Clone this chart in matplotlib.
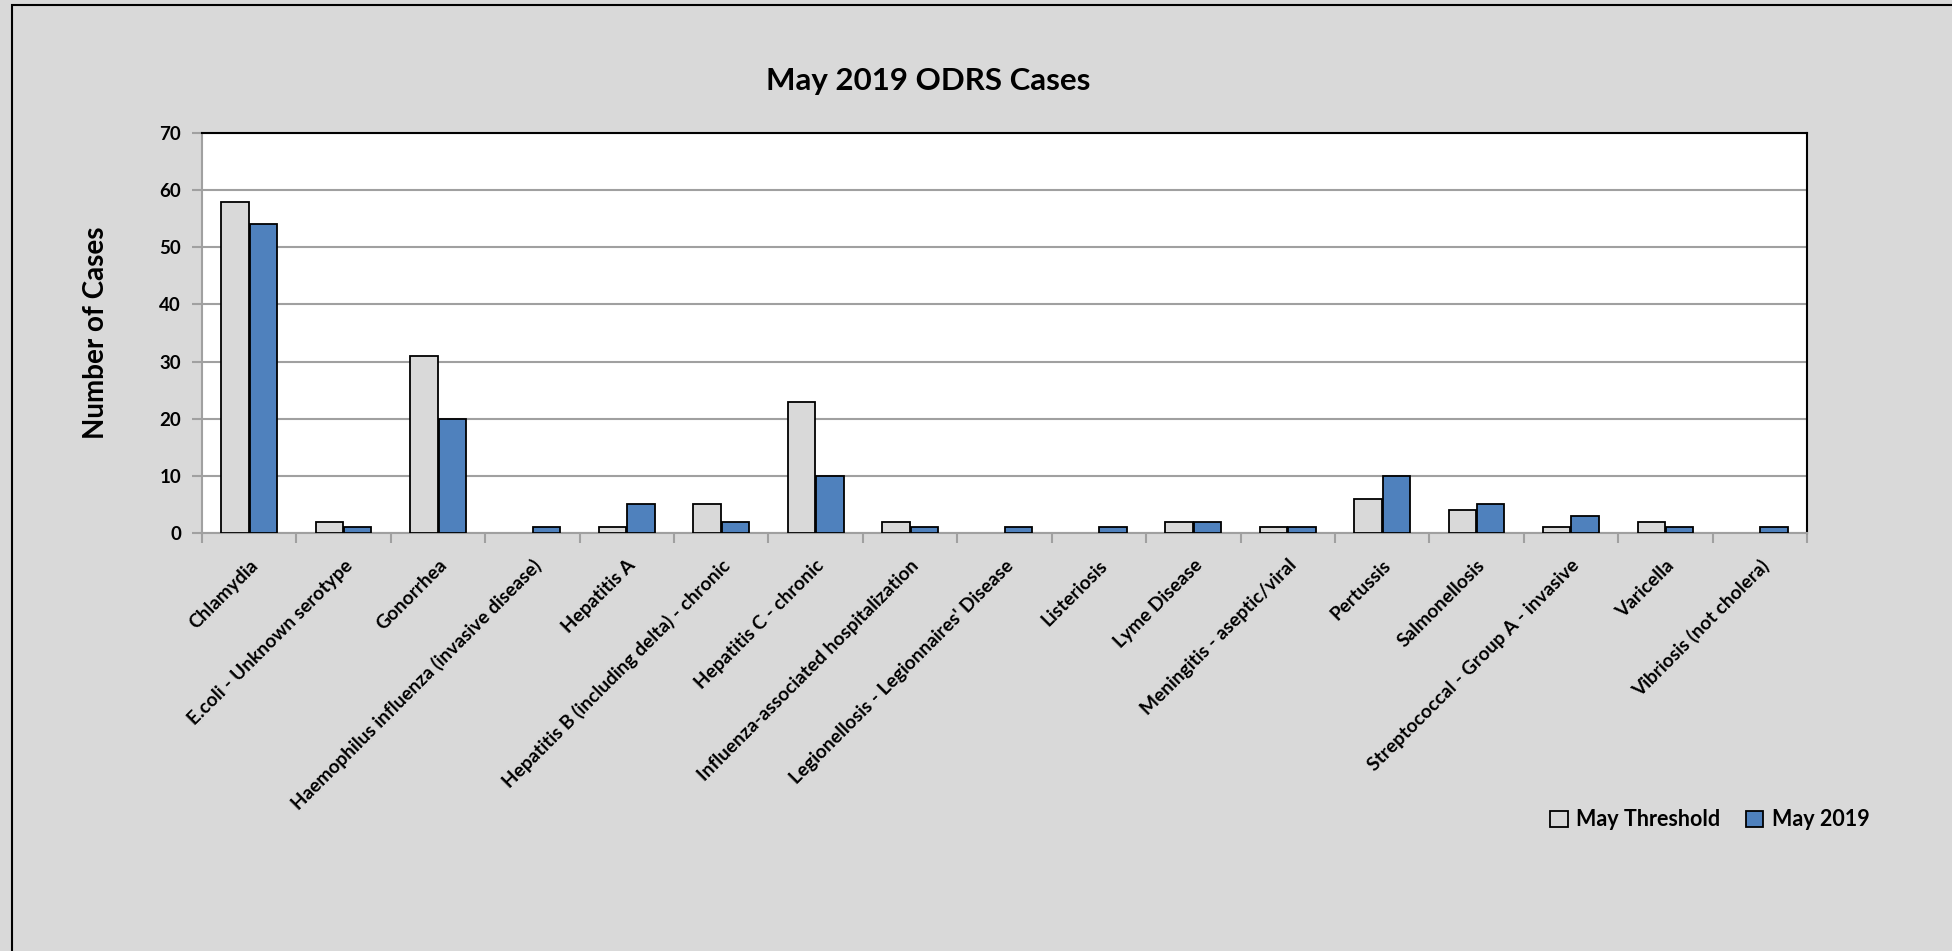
import numpy as np
import matplotlib
matplotlib.use("Agg")
import matplotlib.pyplot as plt
from matplotlib.patches import Rectangle

categories = ["Chlamydia", "E.coli - Unknown serotype", "Gonorrhea",
              "Haemophilus influenza (invasive disease)", "Hepatitis A",
              "Hepatitis B (including delta) - chronic", "Hepatitis C - chronic",
              "Influenza-associated hospitalization",
              "Legionellosis - Legionnaires' Disease", "Listeriosis",
              "Lyme Disease", "Meningitis - aseptic/viral", "Pertussis",
              "Salmonellosis", "Streptococcal - Group A - invasive",
              "Varicella", "Vibriosis (not cholera)"]
threshold = [58, 2, 31, 0, 1, 5, 23, 2, 0, 0, 2, 1, 6, 4, 1, 2, 0]
may_2019 = [54, 1, 20, 1, 5, 2, 10, 1, 1, 1, 2, 1, 10, 5, 3, 1, 1]
y_ticks = [0, 10, 20, 30, 40, 50, 60, 70]

plt.rcParams['font.family'] = ['Lato', 'DejaVu Sans']

W, H = 1952, 951
fig = plt.figure(figsize=(W / 100, H / 100), dpi=100)
fig.patch.set_facecolor("#D9D9D9")
# outer chart frame
fig.patches.append(Rectangle((12 / W, -0.05), 1.1, 1 - 5 / H + 0.05,
                             transform=fig.transFigure, fill=False,
                             edgecolor="black", linewidth=1.5))

ax = fig.add_axes([202 / W, 1 - 533 / H, (1807 - 202) / W, (533 - 133) / H])
ax.set_facecolor("white")

x = np.arange(len(categories))
bw = 0.29
# no outline for empty bars
ax.bar(x - 0.15, threshold, bw, color="#D9D9D9", edgecolor="black",
       linewidth=[1.3 if v else 0 for v in threshold],
       label="May Threshold", zorder=3)
ax.bar(x + 0.15, may_2019, bw, color="#4F81BD", edgecolor="black",
       linewidth=[1.3 if v else 0 for v in may_2019],
       label="May 2019", zorder=3)

ax.set_xlim(-0.5, len(categories) - 0.5)
ax.set_ylim(0, 70)
ax.set_yticks(y_ticks)
ax.set_yticklabels([str(v) for v in y_ticks], fontsize=13.5, fontweight="bold")
ax.yaxis.grid(True, color="#A0A0A0", linewidth=1.5, zorder=0)

ax.set_xticks(np.arange(len(categories) + 1) - 0.5)
ax.set_xticklabels([])
ax.set_xticks(x, minor=True)
ax.set_xticklabels(categories, minor=True, rotation=45, ha="right",
                   rotation_mode="anchor", fontsize=13.8, fontweight="bold")
ax.tick_params(axis="x", which="minor", length=0, pad=17)
ax.tick_params(axis="x", which="major", length=7, color="#A0A0A0", width=1.5)
ax.tick_params(axis="y", length=7, color="#A0A0A0", width=1.5, pad=8)

for s in ["left", "bottom"]:
    ax.spines[s].set_color("#A0A0A0")
    ax.spines[s].set_linewidth(1.5)
for s in ["top", "right"]:
    ax.spines[s].set_color("black")
    ax.spines[s].set_linewidth(1.5)

ax.set_ylabel("Number of Cases", fontsize=20, fontweight="bold", labelpad=36)
fig.text(928 / W, 1 - 81 / H, "May 2019 ODRS Cases", fontsize=22.5,
         fontweight="bold", ha="center", va="center")

leg = fig.legend(loc="center", bbox_to_anchor=(1710 / W, 1 - 820 / H),
                 ncol=2, frameon=False, prop={"size": 15.5, "weight": "bold"},
                 handlelength=0.8, handleheight=0.8, handletextpad=0.4,
                 columnspacing=1.2)

fig.savefig("out.png", dpi=100, facecolor=fig.get_facecolor())
